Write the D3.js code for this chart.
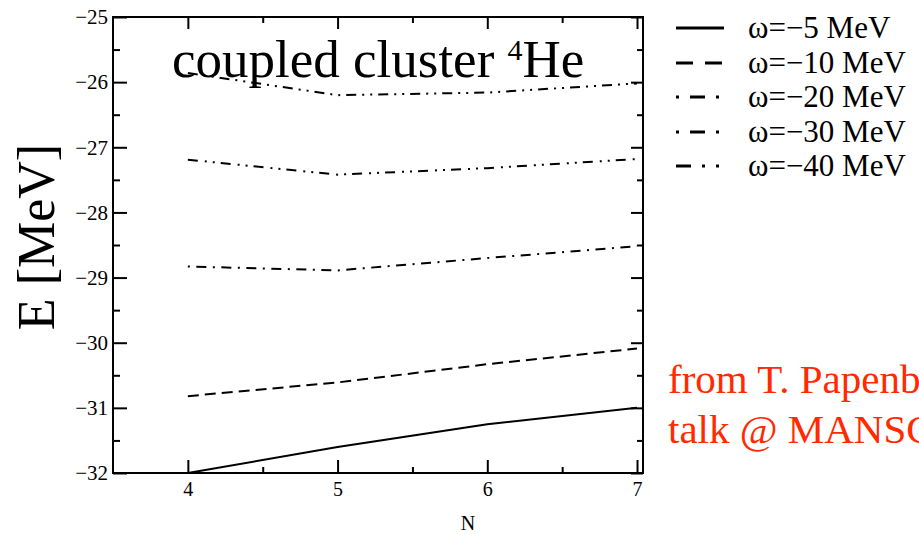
<!DOCTYPE html>
<html>
<head>
<meta charset="utf-8">
<script src="https://cdn.jsdelivr.net/npm/d3@7"></script>
<style>
  html, body { margin: 0; padding: 0; background: #fff; overflow: hidden; }
  svg { display: block; }
</style>
</head>
<body>
<svg id="chart" width="919" height="534"></svg>
<script>
// Shell sizes N and coupled-cluster ground-state energies of 4He (MeV)
const nValues = [4, 5, 6, 7];
const omegaLabels = ["ω=−5 MeV", "ω=−10 MeV", "ω=−20 MeV", "ω=−30 MeV", "ω=−40 MeV"];
const energyW5  = [-32.0, -31.6, -31.25, -31.0];
const energyW10 = [-30.82, -30.61, -30.33, -30.09];
const energyW20 = [-28.83, -28.89, -28.70, -28.52];
const energyW30 = [-27.19, -27.42, -27.32, -27.18];
const energyW40 = [-25.86, -26.20, -26.16, -26.02];
const xTicks = [4, 5, 6, 7];
const yTicks = [-32, -31, -30, -29, -28, -27, -26, -25];

const seriesValues = [energyW5, energyW10, energyW20, energyW30, energyW40];
// dash patterns: plot lines and (larger) legend samples
const plotDash   = [null, "11,6", "2,6.5,10,6.5", "10,7,2,6,2,6", "10,6,2,6,2,6"];
const legendDash = [null, "17,12", "3,11,15,11,3,30", "3,11,15,11,3,30", "15,11,3,11,3,30"];

const SERIF = "'Liberation Serif', 'Times New Roman', Times, serif";

const svg = d3.select("#chart");
const plot = { left: 113, right: 643, top: 17, bottom: 473 };

const x = d3.scaleLinear().domain([3.5, 7.04]).range([plot.left, plot.right]);
const y = d3.scaleLinear().domain([-32, -25]).range([plot.bottom, plot.top]);

// frame
svg.append("rect")
  .attr("x", plot.left).attr("y", plot.top)
  .attr("width", plot.right - plot.left).attr("height", plot.bottom - plot.top)
  .attr("fill", "none").attr("stroke", "#000").attr("stroke-width", 2);

// inward ticks on all four sides
const xMinor = [4.5, 5.5, 6.5];
const yMinor = d3.range(-31.5, -25, 1);

function styleAxis(g) {
  g.attr("font-family", null).attr("font-size", null);
  g.select(".domain").remove();
  g.selectAll(".tick line").attr("stroke", "#000").attr("stroke-width", 2);
  g.selectAll("text").style("font-family", SERIF).attr("fill", "#000");
}

const bottomG = svg.append("g").attr("transform", `translate(0,${plot.bottom})`)
  .call(d3.axisBottom(x).tickValues(xTicks).tickSize(-13).tickPadding(9).tickFormat(d3.format("d")));
styleAxis(bottomG);
bottomG.selectAll("text").style("font-size", "20px");
svg.append("g").attr("transform", `translate(0,${plot.bottom})`)
  .call(d3.axisBottom(x).tickValues(xMinor).tickSize(-6).tickFormat(""))
  .call(styleAxis);

svg.append("g").attr("transform", `translate(0,${plot.top})`)
  .call(d3.axisTop(x).tickValues(xTicks).tickSize(-12).tickFormat(""))
  .call(styleAxis);
svg.append("g").attr("transform", `translate(0,${plot.top})`)
  .call(d3.axisTop(x).tickValues(xMinor).tickSize(-6).tickFormat(""))
  .call(styleAxis);

const fmtMinus = d => String(d).replace("-", "−");
const leftG = svg.append("g").attr("transform", `translate(${plot.left},0)`)
  .call(d3.axisLeft(y).tickValues(yTicks).tickSize(-14).tickPadding(5).tickFormat(fmtMinus));
styleAxis(leftG);
leftG.selectAll("text").style("font-size", "21px");
svg.append("g").attr("transform", `translate(${plot.left},0)`)
  .call(d3.axisLeft(y).tickValues(yMinor).tickSize(-7).tickFormat(""))
  .call(styleAxis);

svg.append("g").attr("transform", `translate(${plot.right},0)`)
  .call(d3.axisRight(y).tickValues(yTicks).tickSize(-12).tickFormat(""))
  .call(styleAxis);
svg.append("g").attr("transform", `translate(${plot.right},0)`)
  .call(d3.axisRight(y).tickValues(yMinor).tickSize(-6).tickFormat(""))
  .call(styleAxis);

// energy curves
const line = d3.line().x((d, i) => x(nValues[i])).y(d => y(d));
seriesValues.forEach((vals, i) => {
  svg.append("path")
    .datum(vals)
    .attr("d", line)
    .attr("fill", "none")
    .attr("stroke", "#000")
    .attr("stroke-width", 2)
    .attr("stroke-dasharray", plotDash[i]);
});

// title inside the plot
const title = svg.append("text")
  .attr("x", 172).attr("y", 77)
  .style("font-family", SERIF).style("font-size", "53px").attr("fill", "#000");
title.append("tspan").text("coupled cluster ");
title.append("tspan").style("font-size", "30px").attr("dy", -17).text("4");
title.append("tspan").attr("dy", 17).text("He");

// axis titles
svg.append("text")
  .attr("transform", "translate(54,237) rotate(-90)")
  .attr("text-anchor", "middle")
  .style("font-family", SERIF).style("font-size", "52px").attr("fill", "#000")
  .text("E [MeV]");

svg.append("text")
  .attr("x", 468).attr("y", 530)
  .attr("text-anchor", "middle")
  .style("font-family", SERIF).style("font-size", "20px").attr("fill", "#000")
  .text("N");

// legend
const legendRowY = [28, 63, 97, 132, 166];
omegaLabels.forEach((lab, i) => {
  svg.append("line")
    .attr("x1", 676).attr("x2", 724)
    .attr("y1", legendRowY[i]).attr("y2", legendRowY[i])
    .attr("stroke", "#000").attr("stroke-width", 3)
    .attr("stroke-dasharray", legendDash[i]);
  svg.append("text")
    .attr("x", 748).attr("y", legendRowY[i] + 10)
    .style("font-family", SERIF).style("font-size", "31px").attr("fill", "#000")
    .text(lab);
});

// source note
const note = svg.append("text")
  .style("font-family", SERIF).style("font-size", "41px").attr("fill", "#ff2a00");
note.append("tspan").attr("x", 668).attr("y", 393).text("from T. Papenbrock's");
note.append("tspan").attr("x", 668).attr("y", 443).text("talk @ MANSCHE");
</script>
</body>
</html>
